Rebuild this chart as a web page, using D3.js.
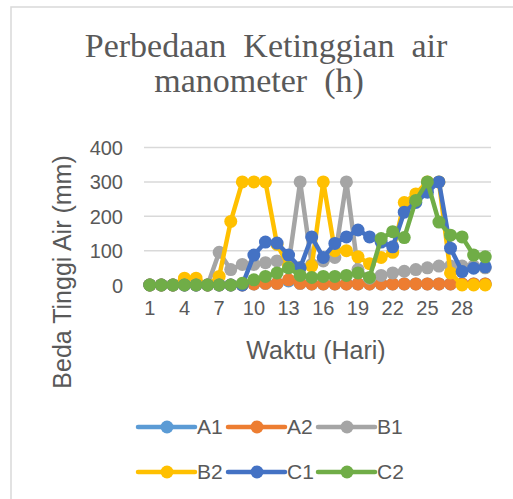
<!DOCTYPE html>
<html>
<head>
<meta charset="utf-8">
<script src="https://cdnjs.cloudflare.com/ajax/libs/d3/7.8.5/d3.min.js"></script>
<style>
body { margin: 0; background: #fff; }
</style>
</head>
<body>
<div id="chart"></div>
<script>
var days = [1,2,3,4,5,6,7,8,9,10,11,12,13,14,15,16,17,18,19,20,21,22,23,24,25,26,27,28,29,30];
var xTickDays = [1,4,7,10,13,16,19,22,25,28];
var yTicks = [0,100,200,300,400];

var A1 = [0,0,0,0,0,0,0,0,0,3,5,5,12,5,3,3,3,3,3,3,3,3,3,3,3,3,3,3,3,3];
var A2 = [0,0,0,0,0,0,0,0,0,3,5,5,15,5,3,3,3,3,3,3,3,3,3,3,3,3,3,3,3,3];
var B1 = [0,0,0,0,0,0,95,45,60,60,65,70,60,300,60,70,80,300,45,20,28,35,40,45,50,55,55,55,55,50];
var B2 = [0,0,0,20,20,0,25,185,300,300,300,118,55,50,55,300,100,100,82,62,80,95,240,265,300,300,35,0,0,0];
var C1 = [0,0,0,0,0,0,0,0,0,87,125,122,87,50,140,80,121,140,160,140,125,111,212,240,270,300,107,39,49,53];
var C2 = [0,0,0,0,0,0,0,0,5,15,25,35,50,28,22,25,25,28,35,22,135,155,138,246,300,183,145,140,87,82];

var seriesNames = ["A1","A2","B1","B2","C1","C2"];
var seriesValues = [A1, A2, B1, B2, C1, C2];
var seriesColors = ["#5B9BD5","#ED7D31","#A5A5A5","#FFC000","#4472C4","#70AD47"];

var width = 513, height = 499;
var textColor = "#595959";

var svg = d3.select("#chart")
.append("svg")
.attr("width", width)
.attr("height", height);

// chart border
svg.append("rect")
.attr("x", 11)
.attr("y", 7)
.attr("width", 540)
.attr("height", 520)
.attr("fill", "#fff")
.attr("stroke", "#d9d9d9")
.attr("stroke-width", 1.5);

// title (double spaces kept like the original)
var title = svg.append("text")
.attr("text-anchor", "middle")
.attr("font-family", "'Liberation Serif', 'Times New Roman', serif")
.attr("font-size", "34px")
.attr("fill", textColor)
.style("white-space", "pre");
title.append("tspan").attr("x", 266).attr("y", 57).text("Perbedaan  Ketinggian  air");
title.append("tspan").attr("x", 259).attr("y", 92).text("manometer  (h)");

var xScale = d3.scaleBand()
.domain(days)
.range([144, 491])
.padding(0);

var yScale = d3.scaleLinear()
.domain([0, 400])
.range([285, 147.5]);

function xPos(d) {
	return xScale(d) + xScale.bandwidth() / 2;
}

// gridlines
svg.append("g")
.selectAll("line")
.data(yTicks)
.enter()
.append("line")
.attr("x1", 144)
.attr("x2", 491)
.attr("y1", function(d) { return yScale(d); })
.attr("y2", function(d) { return yScale(d); })
.attr("stroke", "#d9d9d9")
.attr("stroke-width", 1.5);

// y axis labels
var yAxis = d3.axisLeft(yScale)
.tickValues(yTicks)
.tickSize(0)
.tickPadding(0);

svg.append("g")
.attr("transform", "translate(123,0)")
.call(yAxis)
.call(function(g) { g.select(".domain").remove(); })
.selectAll("text")
.attr("font-family", "'Liberation Sans', Arial, sans-serif")
.attr("font-size", "20px")
.attr("fill", textColor)
.attr("dy", "0.35em");

// x axis labels
var xAxis = d3.axisBottom(xScale)
.tickValues(xTickDays)
.tickSize(0)
.tickPadding(0);

svg.append("g")
.attr("transform", "translate(0,301)")
.call(xAxis)
.call(function(g) { g.select(".domain").remove(); })
.selectAll("text")
.attr("font-family", "'Liberation Sans', Arial, sans-serif")
.attr("font-size", "20px")
.attr("fill", textColor)
.attr("dy", "0.71em");

// axis titles
svg.append("text")
.attr("x", 316)
.attr("y", 359)
.attr("text-anchor", "middle")
.attr("font-family", "'Liberation Sans', Arial, sans-serif")
.attr("font-size", "25px")
.attr("fill", textColor)
.text("Waktu (Hari)");

svg.append("text")
.attr("transform", "translate(71,272) rotate(-90)")
.attr("text-anchor", "middle")
.attr("font-family", "'Liberation Sans', Arial, sans-serif")
.attr("font-size", "25px")
.attr("fill", textColor)
.text("Beda Tinggi Air (mm)");

// series lines + markers
var line = d3.line()
.x(function(d, i) { return xPos(days[i]); })
.y(function(d) { return yScale(d); });

seriesValues.forEach(function(vals, s) {
	var g = svg.append("g").attr("class", "series");
	g.append("path")
	.datum(vals)
	.attr("d", line)
	.attr("fill", "none")
	.attr("stroke", seriesColors[s])
	.attr("stroke-width", 4.5)
	.attr("stroke-linejoin", "round");
	g.selectAll("circle")
	.data(vals)
	.enter()
	.append("circle")
	.attr("cx", function(d, i) { return xPos(days[i]); })
	.attr("cy", function(d) { return yScale(d); })
	.attr("r", 6.5)
	.attr("fill", seriesColors[s]);
});

// legend
var legend = svg.append("g")
.selectAll("g")
.data(seriesNames)
.enter()
.append("g")
.attr("transform", function(d, i) {
	return "translate(" + (138 + (i % 3) * 90) + "," + (427 + Math.floor(i / 3) * 45) + ")";
});

legend.append("line")
.attr("x1", 0)
.attr("x2", 57)
.attr("stroke", function(d, i) { return seriesColors[i]; })
.attr("stroke-width", 4.5)
.attr("stroke-linecap", "round");

legend.append("circle")
.attr("cx", 29)
.attr("r", 6.5)
.attr("fill", function(d, i) { return seriesColors[i]; });

legend.append("text")
.attr("x", 59)
.attr("dy", "0.35em")
.attr("font-family", "'Liberation Sans', Arial, sans-serif")
.attr("font-size", "21px")
.attr("fill", textColor)
.text(function(d) { return d; });
</script>
</body>
</html>
